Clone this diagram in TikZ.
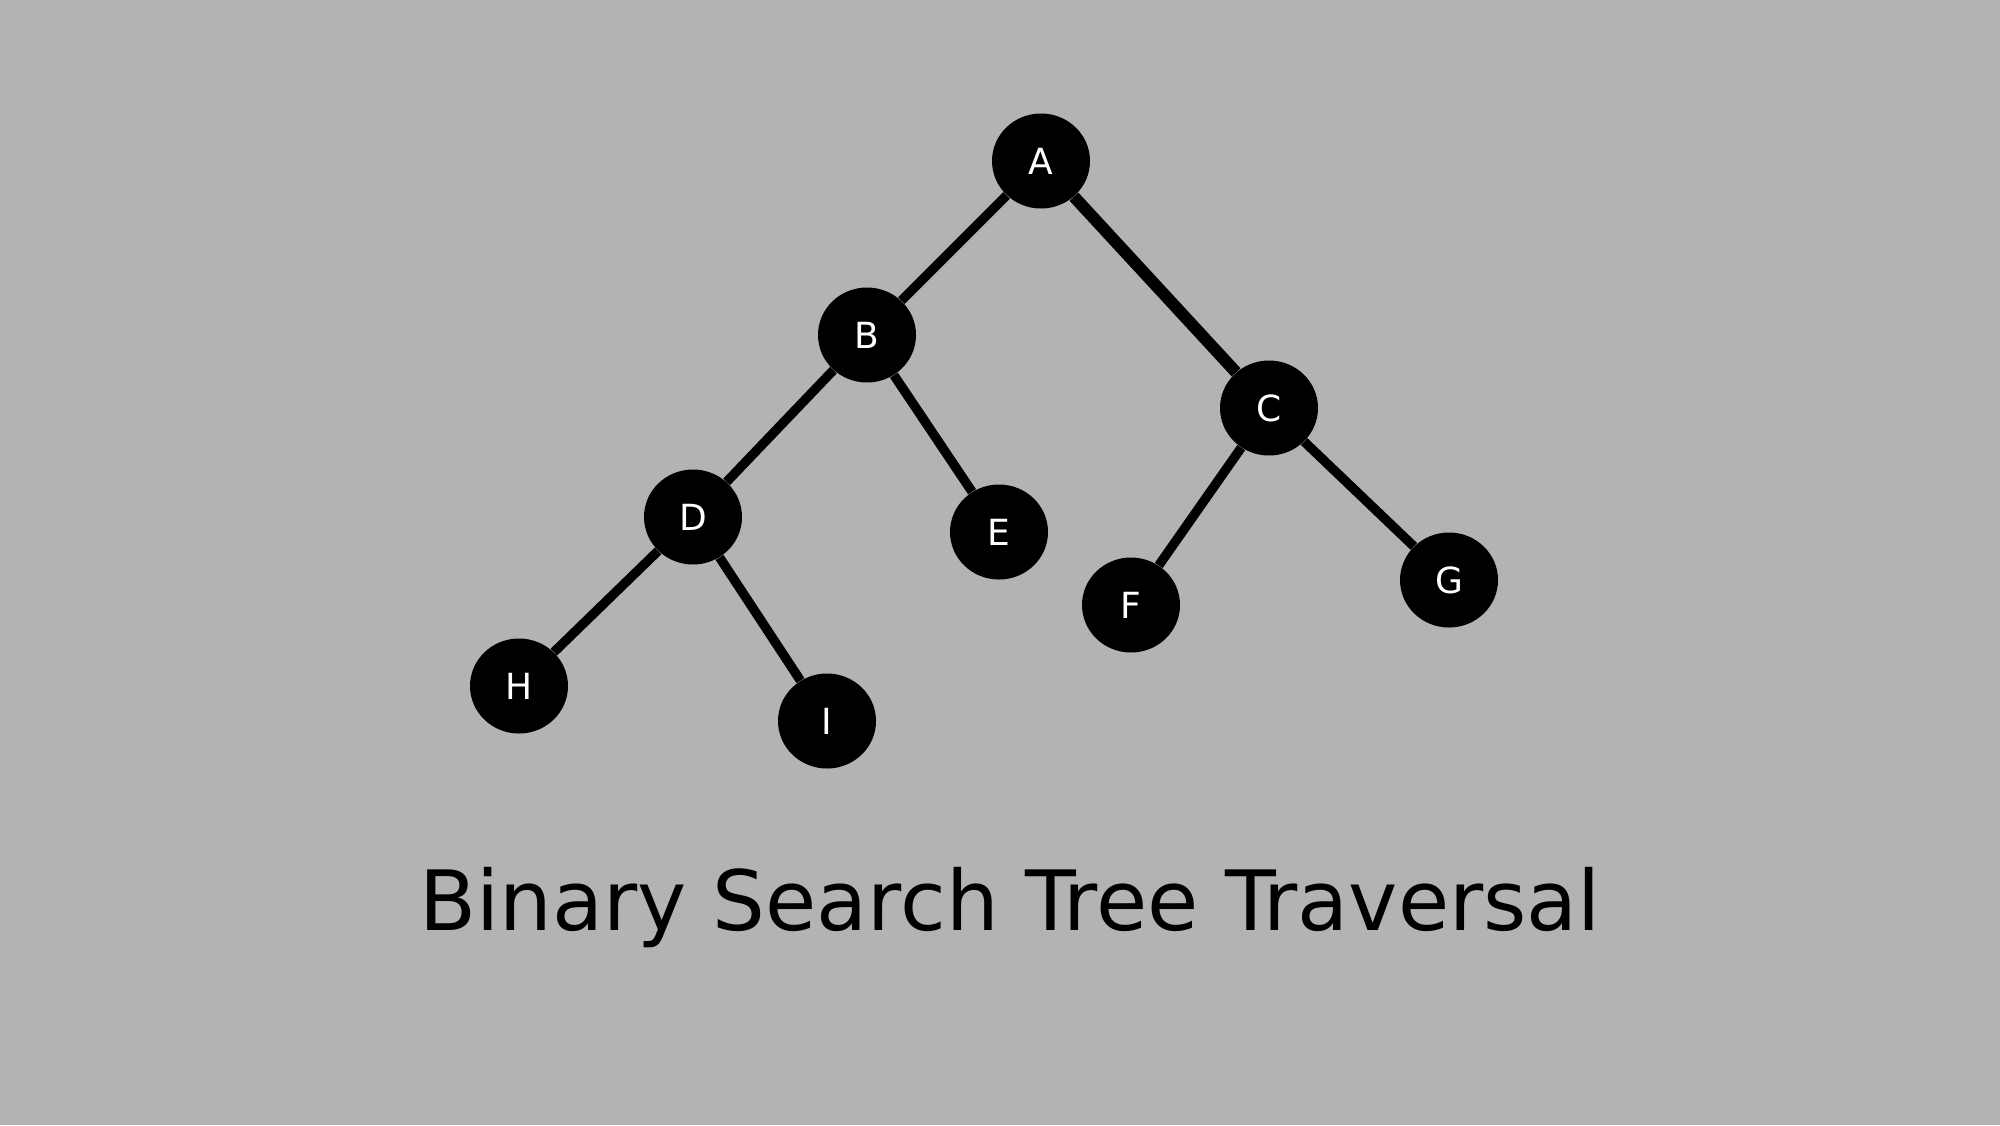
\documentclass[tikz,border=0pt]{standalone}
\usepackage{fontspec}
\setmainfont{DejaVu Sans}
\usetikzlibrary{shapes.geometric}
\definecolor{bggray}{RGB}{179,179,179}
\begin{document}
\begin{tikzpicture}[x=0.5pt,y=-0.5pt,
  treenode/.style={ellipse,fill=black,minimum width=49pt,minimum height=47.5pt,inner sep=0pt,text=white,font=\fontsize{18pt}{20pt}\selectfont},
  edge/.style={draw=black,line width=4.7pt},
  thickedge/.style={draw=black,line width=6pt}]
\fill[bggray] (0,0) rectangle (2000,1125);
\useasboundingbox (0,0) rectangle (2000,1125);
\node[treenode] (A) at (1041,161) {A};
\node[treenode] (B) at (867,335) {B};
\node[treenode] (C) at (1269,408) {C};
\node[treenode] (D) at (693,517) {D};
\node[treenode] (E) at (999,532) {E};
\node[treenode] (F) at (1131,605) {F};
\node[treenode] (G) at (1449,580) {G};
\node[treenode] (H) at (519,686) {H};
\node[treenode] (I) at (827,721) {I};
\draw[edge] (A) -- (B);
\draw[thickedge] (A) -- (C);
\draw[edge] (B) -- (D);
\draw[edge] (B) -- (E);
\draw[edge] (C) -- (F);
\draw[edge] (C) -- (G);
\draw[edge] (D) -- (H);
\draw[edge] (D) -- (I);
\node[anchor=base,inner sep=0pt,font=\fontsize{41.6pt}{48pt}\selectfont] (title) at (1010,930) {Binary Search Tree Traversal};
\end{tikzpicture}
\end{document}
